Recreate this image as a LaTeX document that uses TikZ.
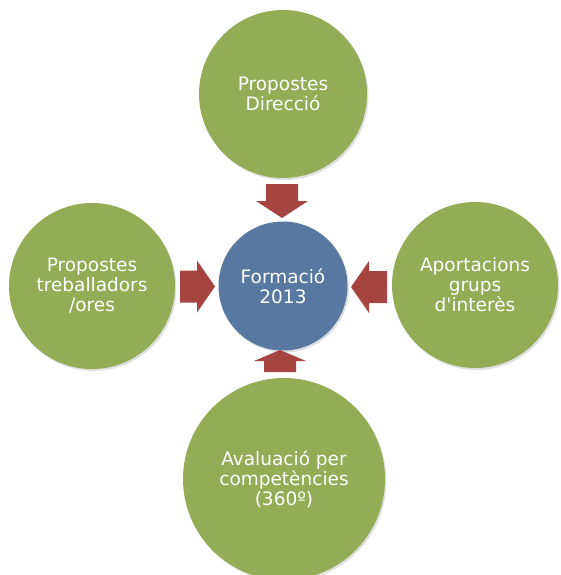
\documentclass[tikz,border=0pt]{standalone}
\usepackage{fontspec}
\newfontfamily\MYfont{DejaVu Sans}
\usetikzlibrary{shadows}

\definecolor{MYgreen}{RGB}{147,172,85}
\definecolor{MYblue}{RGB}{88,120,162}
\definecolor{MYred}{RGB}{166,68,66}

\newcommand\MYshaft{16}
\newcommand\MYhead{26}

% block arrow: tail, angle, length, head length
\newcommand\MYblockarrow[4]{%
 \fill[MYred, shift={(#1)}, rotate=#2]
  (0,-\MYshaft) -- (#3-#4,-\MYshaft) -- (#3-#4,-\MYhead) -- (#3,0)
  -- (#3-#4,\MYhead) -- (#3-#4,\MYshaft) -- (0,\MYshaft) -- cycle;}

\tikzset{
 bubble/.style={circle, fill=MYgreen, text=white, align=center, inner sep=0pt,
  font=\MYfont\fontsize{18.5}{20}\selectfont,
  drop shadow={opacity=0.25, shadow xshift=1.5pt, shadow yshift=-2pt}},
 hub/.style={bubble, fill=MYblue}
}

\begin{document}
\begin{tikzpicture}[x=1pt, y=-1pt]

\useasboundingbox (0,0) rectangle (560,575);
\clip (0,0) rectangle (560,575);

\node[hub, minimum size=129pt] (form) at (283,286) {Formació\\2013};

\node[bubble, minimum size=168pt] (dir) at (283,94) {Propostes\\Direcció};
\node[bubble, minimum size=166pt] (treb) at (92,286) {Propostes\\treballadors\\/ores};
\node[bubble, minimum size=166pt] (grup) at (475,285) {Aportacions\\grups\\d'interès};
\node[bubble, minimum size=202pt] (aval) at (284,479) {Avaluació per\\competències\\(360º)};

\coordinate (Tdir) at (282,184);
\coordinate (Ttreb) at (180,286.5);
\coordinate (Tgrup) at (387,287);
\coordinate (Taval) at (280,372);

\MYblockarrow{Tdir}{-90}{34}{17}
\MYblockarrow{Ttreb}{0}{35}{18}
\MYblockarrow{Tgrup}{180}{36}{18}
\MYblockarrow{Taval}{90}{22}{11}

\end{tikzpicture}
\end{document}
